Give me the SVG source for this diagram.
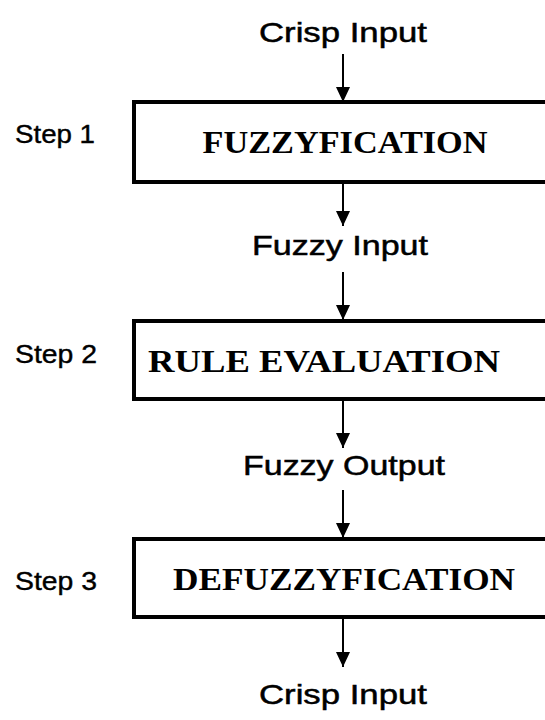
<svg xmlns="http://www.w3.org/2000/svg" width="545" height="720" viewBox="0 0 545 720">
  <style>
    .box { fill: #fff; stroke: #000; stroke-width: 4; }
    .stage { font-family: "Liberation Serif", "Times New Roman", serif; font-weight: bold; font-size: 32px; fill: #000; text-anchor: middle; }
    .sig { font-family: "Liberation Sans", Arial, sans-serif; font-size: 28px; fill: #000; stroke: #000; stroke-width: 0.5; text-anchor: middle; }
    .step { font-family: "Liberation Sans", Arial, sans-serif; font-size: 26px; fill: #000; stroke: #000; stroke-width: 0.4; }
    .wire { stroke: #000; stroke-width: 2; fill: none; marker-end: url(#tip); }
  </style>
  <defs>
    <marker id="tip" viewBox="0 0 15 14" refX="15" refY="7" markerWidth="15" markerHeight="14" markerUnits="userSpaceOnUse" orient="auto">
      <path d="M0,0 L15,7 L0,14 z" fill="#000"/>
    </marker>
  </defs>
  <rect width="545" height="720" fill="#fff"/>

  <!-- vertical flow arrows between the stages -->
  <g id="connectors">
    <line class="wire" x1="343" y1="54" x2="343" y2="102"/>
    <line class="wire" x1="343" y1="182" x2="343" y2="226"/>
    <line class="wire" x1="343" y1="272" x2="343" y2="320"/>
    <line class="wire" x1="343" y1="399" x2="343" y2="448"/>
    <line class="wire" x1="343" y1="490" x2="343" y2="538"/>
    <line class="wire" x1="343" y1="618" x2="343" y2="667"/>
  </g>

  <g id="crisp-in">
    <text class="sig" x="343" y="42" textLength="168" lengthAdjust="spacingAndGlyphs">Crisp Input</text>
  </g>

  <g id="fuzzyfication">
    <rect class="box" x="134" y="102" width="430" height="80"/>
    <text class="stage" x="345" y="153" textLength="285" lengthAdjust="spacingAndGlyphs">FUZZYFICATION</text>
    <text class="step" x="15" y="143" textLength="80" lengthAdjust="spacingAndGlyphs">Step 1</text>
  </g>

  <g id="fuzzy-in">
    <text class="sig" x="340" y="255" textLength="176" lengthAdjust="spacingAndGlyphs">Fuzzy Input</text>
  </g>

  <g id="rule-evaluation">
    <rect class="box" x="134" y="321" width="430" height="78"/>
    <text class="stage" x="324" y="372" textLength="352" lengthAdjust="spacingAndGlyphs">RULE EVALUATION</text>
    <text class="step" x="15" y="363" textLength="82" lengthAdjust="spacingAndGlyphs">Step 2</text>
  </g>

  <g id="fuzzy-out">
    <text class="sig" x="344" y="475" textLength="202" lengthAdjust="spacingAndGlyphs">Fuzzy Output</text>
  </g>

  <g id="defuzzyfication">
    <rect class="box" x="134" y="539" width="430" height="78"/>
    <text class="stage" x="344" y="590" textLength="342" lengthAdjust="spacingAndGlyphs">DEFUZZYFICATION</text>
    <text class="step" x="15" y="590" textLength="82" lengthAdjust="spacingAndGlyphs">Step 3</text>
  </g>

  <g id="crisp-out">
    <text class="sig" x="343" y="704" textLength="168" lengthAdjust="spacingAndGlyphs">Crisp Input</text>
  </g>
</svg>
